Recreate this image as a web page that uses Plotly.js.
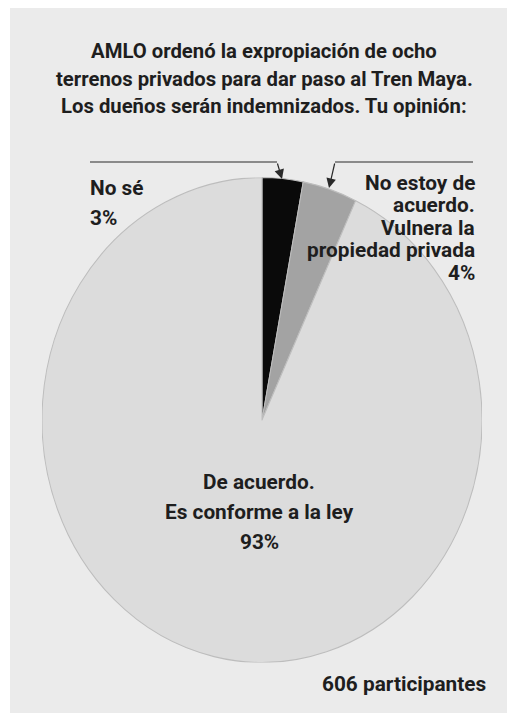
<!DOCTYPE html>
<html>
<head>
<meta charset="utf-8">
<script src="https://cdn.plot.ly/plotly-3.0.1.min.js"></script>
<style>
  html, body { margin: 0; padding: 0; background: #ffffff; }
  #wrap { position: relative; width: 507px; height: 713px; overflow: hidden; background: #ffffff; }
  #panel { position: absolute; left: 10px; top: 8px; right: 0; bottom: 0; background: #ebebeb; }
  #pie { position: absolute; left: 42px; top: 200px; width: 440px; height: 440px;
         transform: scaleY(1.102); transform-origin: 50% 50%; }
  #txt { position: absolute; left: 0; top: 0; width: 507px; height: 713px; }
</style>
</head>
<body>
<div id="wrap">
  <div id="panel"></div>
  <div id="pie"></div>
  <div id="txt"></div>
</div>
<script>
// ---- data ----
const categories = ["No sé", "No estoy de acuerdo. Vulnera la propiedad privada", "De acuerdo. Es conforme a la ley"];
const values = [3, 4, 93];
const sliceColors = ["#0a0a0a", "#a3a3a3", "#dcdcdc"];
const titleLines = [
  "AMLO ordenó la expropiación de ocho",
  "terrenos privados para dar paso al Tren Maya.",
  "Los dueños serán indemnizados. Tu opinión:"
];
const noseLines = ["No sé", values[0] + "%"];
const desacuerdoLines = ["No estoy de", "acuerdo.", "Vulnera la", "propiedad privada", values[1] + "%"];
const acuerdoLines = ["De acuerdo.", "Es conforme a la ley", values[2] + "%"];
const footer = "606 participantes";

// ---- pie ----
Plotly.newPlot("pie", [{
  type: "pie",
  labels: categories,
  values: values,
  sort: false,
  direction: "clockwise",
  rotation: 0,
  textinfo: "none",
  hoverinfo: "label+percent",
  marker: { colors: sliceColors, line: { color: "#bdbdbd", width: 1 } },
  domain: { x: [0, 1], y: [0, 1] }
}], {
  width: 440, height: 440,
  margin: { l: 0, r: 0, t: 0, b: 0 },
  paper_bgcolor: "rgba(0,0,0,0)",
  showlegend: false
}, { displayModeBar: false, staticPlot: true });

// ---- text overlay ----
const FONT = "Roboto, 'Open Sans', 'DejaVu Sans', sans-serif";
const TXT = "#1e1e1e";
function ann(text, x, y, xanchor, size) {
  return {
    text: text, x: x, y: y, xref: "x", yref: "y",
    xanchor: xanchor, yanchor: "middle", showarrow: false,
    font: { family: FONT, size: size || 20.8, color: TXT, weight: 700 }
  };
}
const annotations = [];
const titleY = [51, 79, 106];
titleLines.forEach((t, i) => annotations.push(ann(t, 264, titleY[i], "center", 20.3)));
const noseY = [188, 218];
noseLines.forEach((t, i) => annotations.push(ann(t, 88, noseY[i], "left")));
const desY = [183, 205, 228, 250, 273];
desacuerdoLines.forEach((t, i) => annotations.push(ann(t, 477, desY[i], "right")));
const acY = [482, 512, 542];
acuerdoLines.forEach((t, i) => annotations.push(ann(t, 259, acY[i], "center")));
annotations.push(ann(footer, 488, 684, "right"));

// arrows from the leader lines to the slices
const arrowStyle = { showarrow: true, arrowhead: 2, arrowsize: 1.6, arrowwidth: 1.2, arrowcolor: "#2a2a2a",
                     xref: "x", yref: "y", axref: "x", ayref: "y", text: "" };
annotations.push(Object.assign({}, arrowStyle, { x: 282, y: 179, ax: 277, ay: 162 }));
annotations.push(Object.assign({}, arrowStyle, { x: 329, y: 188, ax: 335, ay: 162 }));

const shapes = [
  { type: "line", xref: "x", yref: "y", x0: 90, x1: 277, y0: 162, y1: 162, line: { color: "#2a2a2a", width: 1.2 } },
  { type: "line", xref: "x", yref: "y", x0: 335, x1: 473, y0: 162, y1: 162, line: { color: "#2a2a2a", width: 1.2 } }
];

Plotly.newPlot("txt", [], {
  width: 507, height: 713,
  margin: { l: 0, r: 0, t: 0, b: 0 },
  paper_bgcolor: "rgba(0,0,0,0)",
  plot_bgcolor: "rgba(0,0,0,0)",
  xaxis: { range: [0, 507], visible: false, fixedrange: true },
  yaxis: { range: [713, 0], visible: false, fixedrange: true },
  showlegend: false,
  annotations: annotations,
  shapes: shapes
}, { displayModeBar: false, staticPlot: true });
</script>
</body>
</html>
